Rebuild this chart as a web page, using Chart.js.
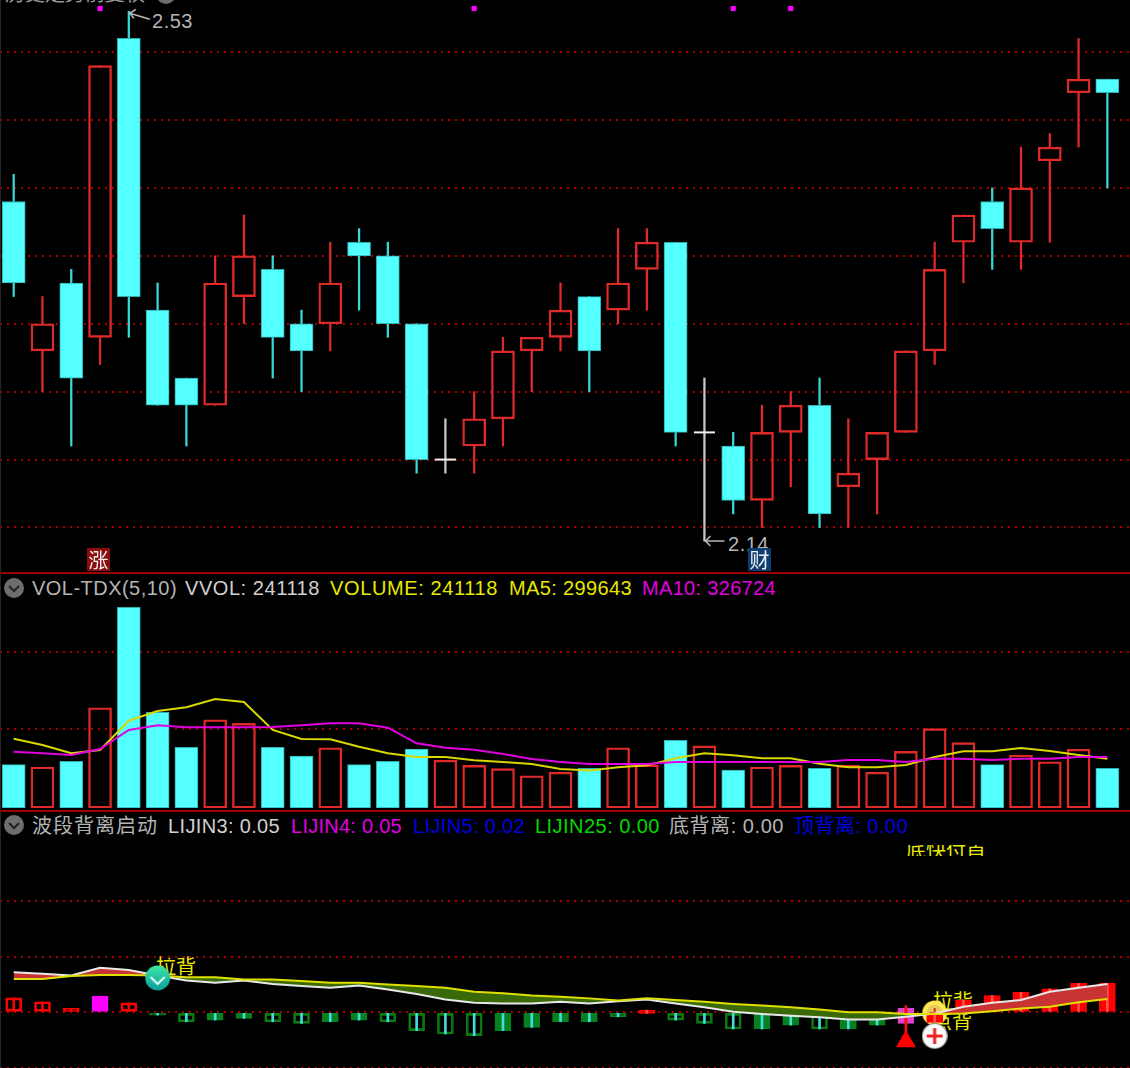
<!DOCTYPE html>
<html lang="zh">
<head>
<meta charset="UTF-8">
<title>K线 VOL-TDX 波段背离启动</title>
<script src="https://cdn.jsdelivr.net/npm/chart.js@4"></script>
<style>
  html, body { margin: 0; background: #000; }
  body { position: relative; width: 1130px; height: 1068px; overflow: hidden; }
  canvas { position: absolute; left: 0; z-index: 2; }
  .t { position: absolute; z-index: 1; white-space: nowrap; line-height: 24px; height: 24px;
       font: 20px/24px "Liberation Sans", "Noto Sans CJK SC", sans-serif; }
  .cjk { font-family: "Liberation Sans", "Noto Sans CJK SC", sans-serif; }
  .sep { position: absolute; left: 0; width: 1130px; height: 2px; background: #9c0000; z-index: 1; }
  .edge { position: absolute; left: 0; top: 0; width: 1px; height: 1068px; background: #262626; z-index: 3; }
  .badge { position: absolute; z-index: 3; width: 23px; height: 23px; color: #eee; text-align: center;
           font: 20px/23px "Noto Sans CJK SC", sans-serif; }
  .icon { position: absolute; left: 3px; z-index: 3; }
  .clip { position: absolute; overflow: hidden; z-index: 1; white-space: nowrap; font-family: "Noto Sans CJK SC", sans-serif; }
</style>
</head>
<body>
<div class="edge"></div>
<div class="sep" style="top:572px"></div>
<div class="sep" style="top:810px"></div>

<!-- cut off title at the very top -->
<div class="clip" style="left:5px;top:0;width:145px;height:3px;color:#999;font-size:20px;line-height:20px"><div style="margin-top:-17px">历史走势前复权</div></div>
<svg class="icon" style="left:155px;top:-17px" width="22" height="22"><circle cx="11" cy="11" r="10" fill="#6e6e6e"/></svg>

<div class="t" style="left:152px;top:9px;color:#b4b4b4" data-w="41">2.53</div>
<div class="t" style="left:728px;top:532px;color:#b4b4b4" data-w="41">2.14</div>
<div class="badge" style="left:87px;top:548px;background:#8a0c0c">涨</div>
<div class="badge" style="left:748px;top:548px;background:#0c3c70">财</div>

<svg class="icon" style="top:577px" width="22" height="22"><circle cx="11" cy="11" r="10" fill="#6e6e6e"/><path d="M6 9l5 5 5-5" stroke="#222" stroke-width="2" fill="none"/></svg>
<div class="t" style="left:32px;top:576px;color:#b4b4b4" data-w="145">VOL-TDX(5,10)</div>
<div class="t" style="left:185px;top:576px;color:#d0d0d0" data-w="135">VVOL: 241118</div>
<div class="t" style="left:330px;top:576px;color:#e8e800" data-w="168">VOLUME: 241118</div>
<div class="t" style="left:509px;top:576px;color:#e8e800" data-w="123">MA5: 299643</div>
<div class="t" style="left:642px;top:576px;color:#e000e0" data-w="134">MA10: 326724</div>

<svg class="icon" style="top:814px" width="22" height="22"><circle cx="11" cy="11" r="10" fill="#6e6e6e"/><path d="M6 9l5 5 5-5" stroke="#222" stroke-width="2" fill="none"/></svg>
<div class="t" style="left:32px;top:814px;color:#b4b4b4" data-w="126">波段背离启动</div>
<div class="t" style="left:168px;top:814px;color:#d0d0d0" data-w="112">LIJIN3: 0.05</div>
<div class="t" style="left:291px;top:814px;color:#e000e0" data-w="111">LIJIN4: 0.05</div>
<div class="t" style="left:413px;top:814px;color:#0000e0" data-w="112">LIJIN5: 0.02</div>
<div class="t" style="left:535px;top:814px;color:#00d800" data-w="125">LIJIN25: 0.00</div>
<div class="t" style="left:669px;top:814px;color:#b4b4b4" data-w="115">底背离: 0.00</div>
<div class="t" style="left:794px;top:814px;color:#0000e0" data-w="114">顶背离: 0.00</div>

<div class="clip" style="left:906px;top:845px;width:80px;height:11px;color:#e8e800;font-size:20px;line-height:20px"><div style="margin-top:-5px">底快付首</div></div>
<div class="t cjk" style="left:156px;top:955px;color:#e8e800">拉背</div>
<div class="t cjk" style="left:933px;top:990px;color:#e8e800">拉背</div>
<div class="t cjk" style="left:932px;top:1010px;color:#e8e800">点背</div>

<canvas id="priceChart" width="1130" height="573" style="top:0"></canvas>
<canvas id="volChart" width="1130" height="233" style="top:575.3px"></canvas>
<canvas id="signalChart" width="1130" height="258" style="top:810px"></canvas>

<script>
// candles
const opens  = [2.39,2.28,2.33,2.29,2.51,2.31,2.26,2.24,2.32,2.34,2.30,2.30,2.36,2.35,2.30,2.20,2.21,2.23,2.28,2.29,2.32,2.31,2.34,2.36,2.22,2.21,2.17,2.22,2.24,2.18,2.20,2.22,2.28,2.36,2.39,2.36,2.42,2.47,2.48];
const closes = [2.33,2.30,2.26,2.49,2.32,2.24,2.24,2.33,2.35,2.29,2.28,2.33,2.35,2.30,2.20,2.20,2.23,2.28,2.29,2.31,2.28,2.33,2.36,2.22,2.22,2.17,2.22,2.24,2.16,2.19,2.22,2.28,2.34,2.38,2.37,2.40,2.43,2.48,2.47];
const highs  = [2.41,2.32,2.34,2.49,2.53,2.33,2.26,2.35,2.38,2.35,2.31,2.36,2.37,2.36,2.30,2.23,2.25,2.29,2.29,2.33,2.32,2.37,2.37,2.36,2.26,2.22,2.24,2.25,2.26,2.23,2.22,2.28,2.36,2.38,2.40,2.43,2.44,2.51,2.48];
const lows   = [2.32,2.25,2.21,2.27,2.29,2.24,2.21,2.24,2.30,2.26,2.25,2.28,2.31,2.29,2.19,2.19,2.19,2.21,2.25,2.28,2.25,2.30,2.31,2.21,2.14,2.16,2.15,2.18,2.15,2.15,2.16,2.22,2.27,2.33,2.34,2.34,2.36,2.43,2.40];
const priceTicks = [2.15,2.20,2.25,2.30,2.35,2.40,2.45,2.50];
const topMarkIdx = [3,16,25,27];
const topMarkVal = 2.532;

// volume panel
const volumes = [263000,249000,284000,609000,1219000,581000,369000,536000,514000,369000,316000,366000,263000,284000,358000,290000,259000,239000,196000,217000,241000,366000,261000,411000,377000,231000,249000,259000,241000,259000,217000,344000,482000,397000,263000,322000,281000,357000,241118];
const ma5  = [421000,383000,332000,352000,530000,589000,612000,662000,644000,474000,419000,417000,372000,332000,310000,310000,290000,279000,267000,237000,227000,247000,259000,302000,332000,320000,302000,302000,269000,247000,247000,261000,310000,344000,344000,364000,346000,322000,299643];
const ma10 = [342000,332000,322000,358000,474000,502000,490000,490000,490000,492000,502000,514000,514000,488000,393000,366000,354000,328000,298000,279000,267000,267000,267000,279000,279000,279000,279000,279000,279000,292000,292000,279000,299000,299000,292000,299000,299000,310000,310000];
const volTicks = [480000,947000];

// signal panel
const lijin3 = [.072,.069,.066,.080,.076,.066,.057,.053,.057,.051,.047,.044,.048,.041,.033,.023,.017,.016,.016,.019,.016,.020,.023,.016,.009,.001,-.003,-.006,-.009,-.013,-.013,-.008,-.002,.010,.017,.022,.037,.044,.051];
const lijin5 = [.060,.060,.065,.067,.067,.066,.063,.063,.059,.059,.056,.053,.053,.050,.047,.044,.037,.034,.030,.028,.025,.021,.025,.022,.019,.015,.012,.009,.005,0,0,-.003,-.003,-.002,.002,.007,.010,.018,.024];
const stickHigh = [.026,.019,.007,.029,.017,0,0,0,0,0,0,0,0,0,0,0,0,0,0,0,0,0,.004,0,0,0,0,0,0,0,0,.007,-.005,.022,.030,.036,.042,.052,.052];
const stickLow  = [0,0,0,0,0,-.005,-.017,-.014,-.011,-.017,-.020,-.017,-.014,-.017,-.033,-.039,-.042,-.033,-.027,-.017,-.017,-.008,-.002,-.014,-.020,-.030,-.030,-.023,-.030,-.030,-.023,-.020,-.018,0,0,0,0,0,0];
const stickKinds = 'hhhmhgoggooggoooogggggrooogg'.split('').concat(['o','g','g','p','r','r','r','r','r','r','r']);
const signalTicks = [-.1,0,.1,.2];
const signalStem = [-.035,.012];
const tealMark = [5,.0616];
const goldMark = [32,-.0013];
const plusMark = [32,-.0426];
const triMark  = [31,-.0524];

const RED = '#e02a2a', CYAN = '#54ffff', GREEN = '#078020', DGREEN = '#0a7a10';
const idx = opens.map((_, i) => i);
const xScale = { type: 'linear', display: false, offset: false, min: -0.476, max: 38.787, grid: { display: false } };

function yScale(min, max, ticks) {
  return {
    min, max, position: 'left',
    afterBuildTicks: s => { s.ticks = ticks.map(v => ({ value: v })); },
    grid: { color: '#a80000', drawTicks: false, lineWidth: 2 },
    border: { display: false, dash: [2, 5] },
    ticks: { display: false }
  };
}

function baseOptions(min, max, ticks) {
  return {
    responsive: false, animation: false, events: [],
    layout: { padding: 0, autoPadding: false },
    plugins: { legend: { display: false }, tooltip: { enabled: false } },
    scales: { x: xScale, y: yScale(min, max, ticks) }
  };
}

const barDs = (data, thick, bg, border, bw, order) => ({
  type: 'bar', data, barThickness: thick, grouped: false, order,
  backgroundColor: bg, borderColor: border, borderWidth: bw, borderSkipped: false
});

const isUp = i => closes[i] >= opens[i];

// little pictures used as point styles
function icon(size, draw) {
  const c = document.createElement('canvas');
  c.width = c.height = size;
  draw(c.getContext('2d'), size / 2);
  return c;
}
const tealIcon = icon(26, (g, r) => {
  const f = g.createLinearGradient(0, 0, 0, 26);
  f.addColorStop(0, '#3fe8a8'); f.addColorStop(1, '#0c9c9c');
  g.fillStyle = f; g.beginPath(); g.arc(r, r, r - .5, 0, 7); g.fill();
  g.strokeStyle = '#dff'; g.lineWidth = 2;
  g.beginPath(); g.moveTo(r - 7, r - 1); g.lineTo(r, r + 6); g.lineTo(r + 7, r - 1); g.stroke();
});
const goldIcon = icon(26, (g, r) => {
  g.fillStyle = '#ffe850'; g.beginPath(); g.arc(r, r, r - .5, 0, 7); g.fill();
  g.fillStyle = '#e8c860'; g.beginPath(); g.arc(r, r, r - 5, 0, 7); g.fill();
  g.fillStyle = RED; g.fillRect(r - 5, r - 1, 10, 2); g.fillRect(r - 1, r - 5, 2, 10);
});
const plusIcon = icon(26, (g, r) => {
  const f = g.createRadialGradient(r, r, 8, r, r, r);
  f.addColorStop(0, '#fff'); f.addColorStop(.7, '#f4f4f4'); f.addColorStop(1, '#666');
  g.fillStyle = f; g.beginPath(); g.arc(r, r, r, 0, 7); g.fill();
  g.fillStyle = '#ee2020'; g.fillRect(r - 8, r - 1.5, 16, 3); g.fillRect(r - 1.5, r - 8, 3, 16);
});

const pointDs = (pts, style, radius, color, order) => ({
  type: 'line', showLine: false, data: pts, order,
  pointStyle: style, pointRadius: radius, pointBackgroundColor: color, pointBorderColor: color, pointBorderWidth: 0
});

// the 2.53 / 2.14 pointers
const extremeArrows = {
  id: 'extremeArrows',
  afterDatasetsDraw(chart) {
    const { x, y } = chart.scales, g = chart.ctx;
    g.save();
    g.strokeStyle = '#b8b8b8'; g.lineWidth = 1.5;
    const hx = x.getPixelForValue(highs.indexOf(2.53)), hy = y.getPixelForValue(2.53);
    g.beginPath();
    g.moveTo(hx + 21, hy + 8); g.lineTo(hx + 1, hy + 2);
    g.moveTo(hx + 7, hy - 2); g.lineTo(hx + 1, hy + 2); g.lineTo(hx + 5, hy + 7);
    const lx = x.getPixelForValue(lows.indexOf(2.14)), ly = y.getPixelForValue(2.14);
    g.moveTo(lx + 20, ly); g.lineTo(lx + 1, ly);
    g.moveTo(lx + 6, ly - 5); g.lineTo(lx + 1, ly); g.lineTo(lx + 6, ly + 5);
    g.stroke();
    g.restore();
  }
};

const candleColor = i => opens[i] === closes[i] ? '#c8c8c8' : (isUp(i) ? RED : '#3cd6d6');
const bodyIdx = idx.filter(i => opens[i] !== closes[i]);
const dojiIdx = idx.filter(i => opens[i] === closes[i]);

new Chart(document.getElementById('priceChart'), {
  type: 'bar',
  data: {
    datasets: [
      barDs(idx.map(i => ({ x: i, y: [Math.max(opens[i], closes[i]), highs[i]] })), 1.6, idx.map(candleColor), 'transparent', 0, 5),
      barDs(idx.map(i => ({ x: i, y: [lows[i], Math.min(opens[i], closes[i])] })), 1.6, idx.map(candleColor), 'transparent', 0, 5),
      barDs(bodyIdx.map(i => ({ x: i, y: [opens[i], closes[i]] })), 23,
        bodyIdx.map(i => isUp(i) ? 'transparent' : CYAN),
        bodyIdx.map(i => isUp(i) ? RED : '#2fb0b0'),
        bodyIdx.map(i => isUp(i) ? 1.7 : 1), 4),
      { type: 'line', showLine: false, data: dojiIdx.map(i => ({ x: i, y: opens[i] })), order: 3,
        pointStyle: 'line', pointRadius: 10.5, pointBorderColor: '#f0f0f0', pointBorderWidth: 2 },
      pointDs(topMarkIdx.map(i => ({ x: i, y: topMarkVal })), 'rect', 3.6, '#ff00ff', 2)
    ]
  },
  options: baseOptions(2.1165, 2.5383, priceTicks),
  plugins: [extremeArrows]
});

const lineDs = (vals, color, order) => ({
  type: 'line', data: idx.map(i => ({ x: i, y: vals[i] })), borderColor: color, borderWidth: 2,
  pointRadius: 0, order, fill: false
});

new Chart(document.getElementById('volChart'), {
  type: 'bar',
  data: {
    datasets: [
      barDs(idx.map(i => ({ x: i, y: [0, volumes[i]] })), 23,
        idx.map(i => isUp(i) ? 'transparent' : CYAN),
        idx.map(i => isUp(i) ? RED : '#2fb0b0'),
        idx.map(i => isUp(i) ? 1.7 : 1), 5),
      lineDs(ma10, '#e000e0', 2),
      lineDs(ma5, '#d8d800', 3)
    ]
  },
  options: baseOptions(0, 1415000, volTicks)
});

const stickFill = { h: 'transparent', o: 'transparent', m: '#ff00ff', g: GREEN, r: '#ff0000', p: '#e040d0' };
const stickLine = { h: '#ff0000', o: DGREEN, m: '#ff00ff', g: GREEN, r: '#ff0000', p: '#e040d0' };
const stickCore = { h: '#ff0000', o: '#40dcdc', m: '#ff00ff', g: '#40dcdc', r: '#ff5050', p: '#ff1010' };

new Chart(document.getElementById('signalChart'), {
  type: 'bar',
  data: {
    datasets: [
      pointDs([{ x: goldMark[0], y: goldMark[1] }], goldIcon, 13, '#ffe850', 30),
      barDs(idx.map(i => ({ x: i, y: [stickLow[i], stickHigh[i]] })), 16,
        idx.map(i => stickFill[stickKinds[i]]), idx.map(i => stickLine[stickKinds[i]]), 2, 20),
      barDs(idx.map(i => ({ x: i, y: [stickLow[i], stickHigh[i]] })), 2,
        idx.map(i => stickCore[stickKinds[i]]), 'transparent', 0, 19),
      barDs([{ x: triMark[0], y: signalStem }], 2, '#ff1010', 'transparent', 0, 18),
      // band between the two lines
      { type: 'line', data: idx.map(i => ({ x: i, y: lijin3[i] })), borderColor: '#e8e8e8', borderWidth: 2,
        pointRadius: 0, order: 10,
        fill: { target: 5, above: '#c83434', below: '#3a6a08' } },
      { type: 'line', data: idx.map(i => ({ x: i, y: lijin5[i] })), borderColor: '#e0e000', borderWidth: 2,
        pointRadius: 0, order: 9, fill: false },
      pointDs([{ x: tealMark[0], y: tealMark[1] }], tealIcon, 13, '#20c0a0', 1),
      pointDs([{ x: plusMark[0], y: plusMark[1] }], plusIcon, 13, '#fff', 1),
      pointDs([{ x: triMark[0], y: triMark[1] }], 'triangle', 11.5, '#ff0000', 1)
    ]
  },
  options: baseOptions(-.1, .3632, signalTicks)
});

// stretch the header texts to the widths they have in the reference
document.querySelectorAll('[data-w]').forEach(el => {
  const n = el.textContent.length;
  el.style.display = 'inline-block';
  el.style.height = '24px';
  const natural = el.getBoundingClientRect().width;
  el.style.letterSpacing = ((+el.dataset.w - natural) / n).toFixed(2) + 'px';
});
</script>
</body>
</html>
